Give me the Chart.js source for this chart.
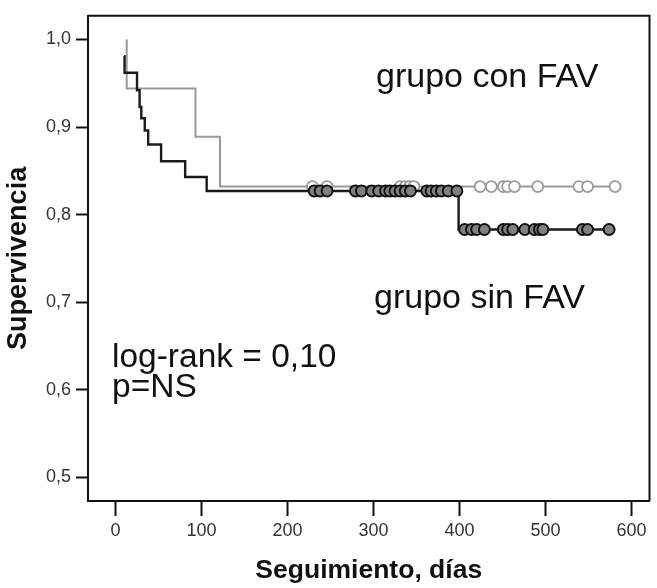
<!DOCTYPE html>
<html><head><meta charset="utf-8">
<script src="https://cdn.jsdelivr.net/npm/chart.js@4/dist/chart.umd.min.js"></script>
<style>html,body{margin:0;padding:0;background:#fff}</style>
</head><body>
<canvas id="c" width="657" height="588"></canvas>
<script>
// Tick labels
const xTicks = [0, 100, 200, 300, 400, 500, 600];
const yTicks = [0.5, 0.6, 0.7, 0.8, 0.9, 1.0];

// Grupo sin FAV (black): Kaplan-Meier steps (day, survival)
const sinFavDays = [10, 10.5, 25, 28, 30, 34, 38, 53, 81, 106, 399, 574];
const sinFavSurv = [0.981, 0.962, 0.942, 0.923, 0.910, 0.896, 0.880, 0.861, 0.843, 0.827, 0.783, 0.783];
// Censored (sin FAV)
const sinFavCensDaysA = [231, 238, 246, 279, 286, 298, 306, 314, 319, 325, 331, 337, 343, 362, 367, 373, 379, 387, 397];
const sinFavCensSurvA = 0.827;
const sinFavCensDaysB = [406, 414, 420, 429, 451, 456, 462, 476, 487, 493, 497, 543, 549, 574];
const sinFavCensSurvB = 0.783;

// Grupo con FAV (gray)
const conFavDays = [13, 13, 93, 121.5, 581];
const conFavSurv = [1.0, 0.944, 0.889, 0.832, 0.832];
const conFavCensDays = [229, 246, 331, 337, 342, 347, 424, 437, 451, 456, 464, 491, 539, 549, 581];
const conFavCensSurv = 0.832;

const annotations = [
  {text: 'grupo con FAV', x: 376, y: 87, size: 34},
  {text: 'grupo sin FAV', x: 374, y: 308, size: 34},
  {text: 'log-rank = 0,10', x: 112, y: 367, size: 33.5},
  {text: 'p=NS', x: 112, y: 397, size: 33.5}
];

const pts = (xs, ys) => xs.map((x, i) => ({x, y: Array.isArray(ys) ? ys[i] : ys}));

const framePlugin = {
  id: 'frame',
  afterDraw(chart) {
    const {ctx, chartArea: a} = chart;
    ctx.save();
    ctx.strokeStyle = '#111';
    ctx.lineWidth = 2;
    ctx.beginPath();
    ctx.moveTo(a.left, a.top); ctx.lineTo(a.right, a.top); ctx.lineTo(a.right, a.bottom);
    ctx.stroke();
    ctx.fillStyle = '#111';
    ctx.textBaseline = 'alphabetic';
    ctx.textAlign = 'left';
    annotations.forEach(t => {
      ctx.font = t.size + 'px "Liberation Sans", Arial, sans-serif';
      ctx.fillText(t.text, t.x, t.y);
    });
    ctx.restore();
  }
};

new Chart(document.getElementById('c'), {
  type: 'line',
  data: {
    datasets: [
      {data: pts(sinFavCensDaysA, sinFavCensSurvA), showLine: false, pointRadius: 5.5, pointBackgroundColor: '#808080', pointBorderColor: '#111', pointBorderWidth: 2},
      {data: pts(sinFavCensDaysB, sinFavCensSurvB), showLine: false, pointRadius: 5.5, pointBackgroundColor: '#808080', pointBorderColor: '#111', pointBorderWidth: 2},
      {data: pts(sinFavDays, sinFavSurv), stepped: 'before', borderColor: '#1a1a1a', borderWidth: 2.4, pointRadius: 0, fill: false},
      {data: pts(conFavCensDays, conFavCensSurv), showLine: false, pointRadius: 5.5, pointBackgroundColor: '#fff', pointBorderColor: '#9a9a9a', pointBorderWidth: 1.8},
      {data: pts(conFavDays, conFavSurv), stepped: 'before', borderColor: '#9a9a9a', borderWidth: 2, pointRadius: 0, fill: false}
    ]
  },
  options: {
    responsive: false,
    animation: false,
    devicePixelRatio: 1,
    layout: {padding: {left: 0, right: 5, top: 6, bottom: 0}},
    plugins: {legend: {display: false}, tooltip: {enabled: false}},
    scales: {
      x: {
        type: 'linear', min: -32, max: 621,
        afterBuildTicks: s => { s.ticks = xTicks.map(v => ({value: v})); },
        afterFit: s => { s.height = 87; },
        grid: {drawOnChartArea: false, drawTicks: true, tickLength: 15, tickWidth: 2, tickColor: '#111'},
        border: {display: true, color: '#111', width: 2},
        ticks: {padding: 4, color: '#333', maxRotation: 0, font: {family: 'Liberation Sans', size: 18}, callback: v => String(v)},
        title: {display: true, text: 'Seguimiento, días', color: '#111', font: {family: 'Liberation Sans', size: 26.5, weight: 'bold'}, padding: {top: 0, bottom: 1}}
      },
      y: {
        type: 'linear', min: 0.473, max: 1.027,
        afterBuildTicks: s => { s.ticks = yTicks.map(v => ({value: v})); },
        afterFit: s => { s.width = 88; },
        grid: {drawOnChartArea: false, drawTicks: true, tickLength: 12, tickWidth: 2, tickColor: '#111'},
        border: {display: true, color: '#111', width: 2},
        ticks: {padding: 5, color: '#333', font: {family: 'Liberation Sans', size: 18}, callback: v => Number(v).toFixed(1).replace('.', ',')},
        title: {display: true, text: 'Supervivencia', color: '#111', font: {family: 'Liberation Sans', size: 27, weight: 'bold'}, padding: {top: 2, bottom: 0}}
      }
    }
  },
  plugins: [framePlugin]
});
</script>
</body></html>
